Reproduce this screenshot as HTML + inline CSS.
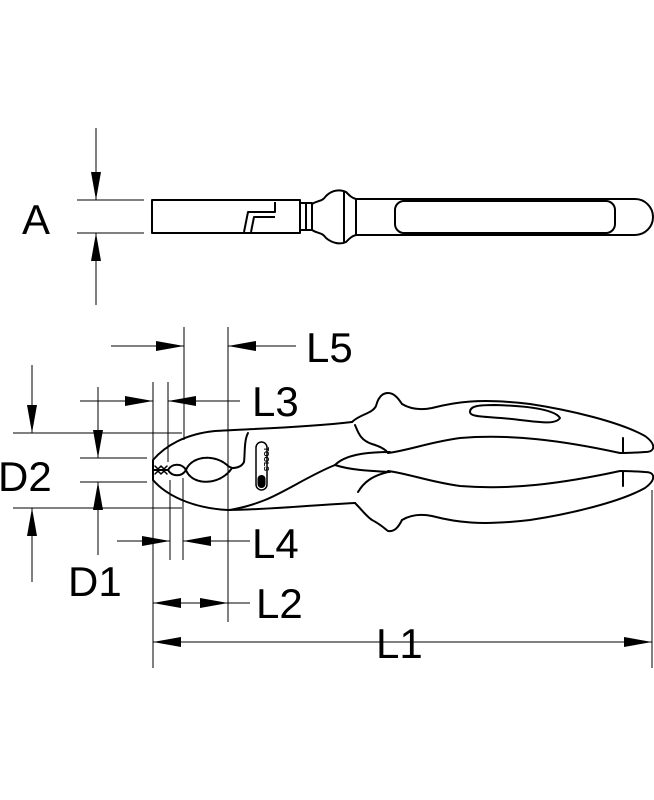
<!DOCTYPE html>
<html><head><meta charset="utf-8"><style>
html,body{margin:0;padding:0;background:#fff;}
svg{display:block;}
text{font-family:"Liberation Sans",sans-serif;fill:#000;}
</style></head><body>
<svg width="654" height="800" viewBox="0 0 654 800" xmlns="http://www.w3.org/2000/svg">
<defs>
<marker id="ar" viewBox="0 0 28 10" refX="28" refY="5" markerWidth="28" markerHeight="10" markerUnits="userSpaceOnUse" orient="auto">
<path d="M0,0 L28,5 L0,10 Z" fill="#000"/>
</marker>
</defs>
<g stroke="#000" stroke-width="1" fill="none">
<!-- ===== TOP VIEW ===== -->
<line x1="96" y1="128" x2="96" y2="200" marker-end="url(#ar)"/>
<line x1="96" y1="305" x2="96" y2="233" marker-end="url(#ar)"/>
<line x1="77" y1="200" x2="144" y2="200"/>
<line x1="77" y1="233" x2="144" y2="233"/>
</g>
<g stroke="#000" stroke-width="2" fill="none" stroke-linejoin="round">
<rect x="152" y="200" width="148" height="33"/>
<path d="M275,202 L275,212 L248,212 L244,232"/>
<path d="M275,217 L254,217 L251,232"/>
<path d="M300,203 L312,203 L312,230 L300,230"/>
<line x1="306" y1="203" x2="306" y2="230"/>
<path d="M312,204 C318,200 322,202 326,196 C332,190 340,189 346,192 C350,196 352,198 356,199 L356,235 C352,236 350,238 346,242 C340,245 332,243 326,238 C322,232 318,234 312,230"/>
<line x1="344" y1="192" x2="344" y2="242"/>
<path d="M356,199 L635,199 A18,18 0 0 1 635,235 L356,235"/>
<rect x="395" y="201" width="220" height="32" rx="9"/>
</g>
<text x="22" y="234" font-size="42">A</text>

<!-- ===== BOTTOM VIEW DIMENSIONS ===== -->
<g stroke="#000" stroke-width="1" fill="none">
<line x1="184" y1="327" x2="184" y2="440"/>
<line x1="228" y1="327" x2="228" y2="622"/>
<line x1="153" y1="382" x2="153" y2="668"/>
<line x1="168" y1="382" x2="168" y2="462"/>
<line x1="170" y1="480" x2="170" y2="560"/>
<line x1="183" y1="478" x2="183" y2="560"/>
<line x1="652" y1="490" x2="652" y2="668"/>
<line x1="111" y1="346" x2="184" y2="346" marker-end="url(#ar)"/>
<line x1="296" y1="346" x2="228" y2="346" marker-end="url(#ar)"/>
<line x1="80" y1="401" x2="153" y2="401" marker-end="url(#ar)"/>
<line x1="240" y1="401" x2="168" y2="401" marker-end="url(#ar)"/>
<line x1="32" y1="365" x2="32" y2="433" marker-end="url(#ar)"/>
<line x1="32" y1="582" x2="32" y2="508" marker-end="url(#ar)"/>
<line x1="13" y1="433" x2="182" y2="433"/>
<line x1="13" y1="508" x2="182" y2="508"/>
<line x1="98" y1="387" x2="98" y2="458" marker-end="url(#ar)"/>
<line x1="98" y1="555" x2="98" y2="482" marker-end="url(#ar)"/>
<line x1="80" y1="458" x2="147" y2="458"/>
<line x1="80" y1="482" x2="147" y2="482"/>
<line x1="117" y1="541" x2="170" y2="541" marker-end="url(#ar)"/>
<line x1="250" y1="541" x2="183" y2="541" marker-end="url(#ar)"/>
<line x1="190" y1="603" x2="153" y2="603" marker-end="url(#ar)"/>
<line x1="190" y1="603" x2="228" y2="603" marker-end="url(#ar)"/>
<line x1="228" y1="603" x2="250" y2="603"/>
<line x1="400" y1="642" x2="153" y2="642" marker-end="url(#ar)"/>
<line x1="400" y1="642" x2="652" y2="642" marker-end="url(#ar)"/>
</g>

<!-- ===== PLIERS ===== -->
<g stroke="#000" stroke-width="2" fill="none" stroke-linejoin="round" stroke-linecap="round">
<path d="M153,480 L153,460 C165,446 185,434 215,431 C245,429 300,428 352,422"/>
<path d="M153,480 C165,494 190,508 228,510 C260,510 300,506 355,503"/>
<path d="M248,433 C244,440 245,455 244,462 C242,466 238,468 232,468"/>
<path d="M153,470 L168,470"/>
<path d="M155,466 l3,3 l3,-3 l3,3 l3,-3 M155,474 l3,-3 l3,3 l3,-3 l3,3" stroke-width="1.5"/>
<path d="M168,470 C172,463 182,463 186,470 C182,477 172,477 168,470 Z"/>
<path d="M186,470 C192,455 216,454 228,466 L232,468 C220,486 192,486 186,470 Z" stroke-dasharray="3 1"/>
<path d="M335,465 C310,475 285,492 265,500 C250,506 240,508 230,510"/>
<path d="M335,465 C345,455 365,452 390,452"/>
<path d="M335,465 C350,470 370,471 390,472"/>
<!-- upper joint + handle -->
<g id="uh">
<path d="M352,422 C360,414 372,414 376,406 C378,398 382,393 388,393 C394,393 398,398 402,404"/>
<path d="M355,425 C358,432 360,440 372,444 C382,447 386,450 388,453"/>
<path d="M402,404 C412,410 422,410 432,408 C455,402 480,398 530,404 C570,410 620,422 645,436 C656,444 656,452 645,452 C630,453 622,453 620,453"/>
<path d="M388,453 C410,450 430,442 460,438 C510,434 560,440 620,453"/>
<path d="M623,438 L623,452"/>
</g>
<path d="M470,412 C470,406 478,405 495,405 C530,406 555,410 560,418 C556,424 545,423 520,420 C490,416 470,418 470,412 Z"/>
<!-- lower joint + handle (mirror) -->
<g transform="translate(0,924) scale(1,-1)">
<path d="M402,404 C412,410 422,410 432,408 C455,402 480,398 530,404 C570,410 620,422 645,436 C656,444 656,452 645,452 C630,453 622,453 620,453"/>
<path d="M388,453 C410,450 430,442 460,438 C510,434 560,440 620,453"/>
<path d="M623,438 L623,452"/>
<path d="M355,421 C362,414 366,408 372,404 C380,400 384,396 388,393 C394,392 398,396 402,404"/>
<path d="M358,432 C364,442 372,448 388,452"/>
</g>
</g>
<!-- logo -->
<rect x="256" y="442" width="11" height="48" rx="5.5" fill="#fff" stroke="#000" stroke-width="1.5"/>
<rect x="257.5" y="475" width="8" height="13" rx="4" fill="#000"/>
<text transform="translate(264,459) rotate(90)" font-size="7" font-weight="bold" text-anchor="middle">TOOLS</text>

<g font-size="42">
<text x="306" y="362">L5</text>
<text x="252" y="416">L3</text>
<text x="-2" y="491">D2</text>
<text x="252" y="558">L4</text>
<text x="68" y="596">D1</text>
<text x="256" y="618">L2</text>
<text x="376" y="658">L1</text>
</g>
</svg>
</body></html>
